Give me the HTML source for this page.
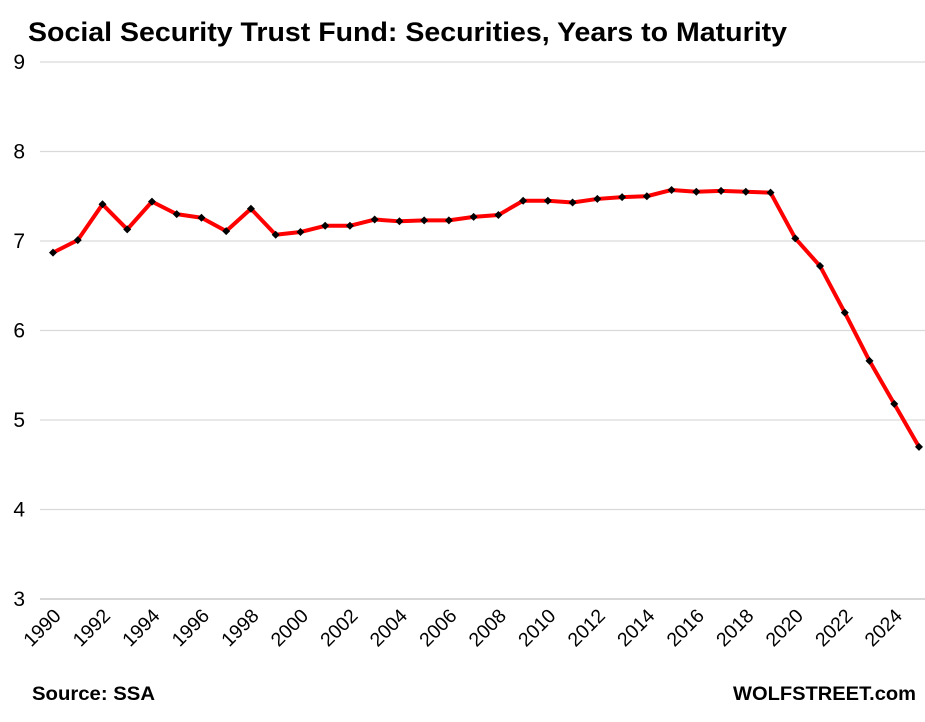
<!DOCTYPE html>
<html><head><meta charset="utf-8"><style>
body{margin:0;background:#fff;width:925px;height:717px;overflow:hidden;font-family:"Liberation Sans",Arial,sans-serif}
</style></head><body>
<svg width="925" height="717">
<text x="28" y="41" font-size="27" font-weight="bold" fill="#000" textLength="759" lengthAdjust="spacingAndGlyphs">Social Security Trust Fund: Securities, Years to Maturity</text>
<g id="grid"></g>
<g id="yt"></g>
<g id="xt"></g>
<g id="series"></g>
<text x="32" y="700" font-size="19" font-weight="bold" textLength="123" lengthAdjust="spacingAndGlyphs">Source: SSA</text>
<text x="733" y="700" font-size="19" font-weight="bold" textLength="183" lengthAdjust="spacingAndGlyphs">WOLFSTREET.com</text>
</svg>
<script>
const years=[1990,1991,1992,1993,1994,1995,1996,1997,1998,1999,2000,2001,2002,2003,2004,2005,2006,2007,2008,2009,2010,2011,2012,2013,2014,2015,2016,2017,2018,2019,2020,2021,2022,2023,2024,2025];
const values=[6.87,7.01,7.41,7.13,7.44,7.30,7.26,7.11,7.36,7.07,7.10,7.17,7.17,7.24,7.22,7.23,7.23,7.27,7.29,7.45,7.45,7.43,7.47,7.49,7.50,7.57,7.55,7.56,7.55,7.54,7.03,6.72,6.20,5.66,5.18,4.70];
const yTicks=[3,4,5,6,7,8,9];
const xTicks=[1990,1992,1994,1996,1998,2000,2002,2004,2006,2008,2010,2012,2014,2016,2018,2020,2022,2024];
const NS="http://www.w3.org/2000/svg";
const x=v=>53+(v-1990)*(919-53)/35;
const y=v=>599-(v-3)*(599-62)/6;
function mk(t,a,p){const e=document.createElementNS(NS,t);for(const k in a)e.setAttribute(k,a[k]);p.appendChild(e);return e;}
const grid=document.getElementById('grid'),yt=document.getElementById('yt'),xt=document.getElementById('xt'),s=document.getElementById('series');
yTicks.forEach(v=>{
 const l=mk('line',{x1:40,x2:925,y1:y(v),y2:y(v),stroke:v===3?'#bfbfbf':'#d9d9d9','stroke-width':1.3},grid);
 
 
 const t=mk('text',{x:25,y:y(v)+7,'font-size':21,'text-anchor':'end'},yt);t.textContent=v;
 
 
});
xTicks.forEach(v=>{
 const t=mk('text',{x:x(v)+9,y:617,'font-size':19.5,'text-anchor':'end',transform:`rotate(-45 ${x(v)+9} 617)`},xt);t.textContent=v;
 
 
});
const p=mk('polyline',{points:years.map((yr,i)=>x(yr)+','+y(values[i])).join(' '),fill:'none',stroke:'#ff0000','stroke-width':4,'stroke-linejoin':'round'},s);


years.forEach((yr,i)=>{
 const cx=x(yr),cy=y(values[i]);
 const m=mk('polygon',{points:`${cx},${cy-4} ${cx+4},${cy} ${cx},${cy+4} ${cx-4},${cy}`,fill:'#000'},s);
 
 
});
</script>
</body></html>
